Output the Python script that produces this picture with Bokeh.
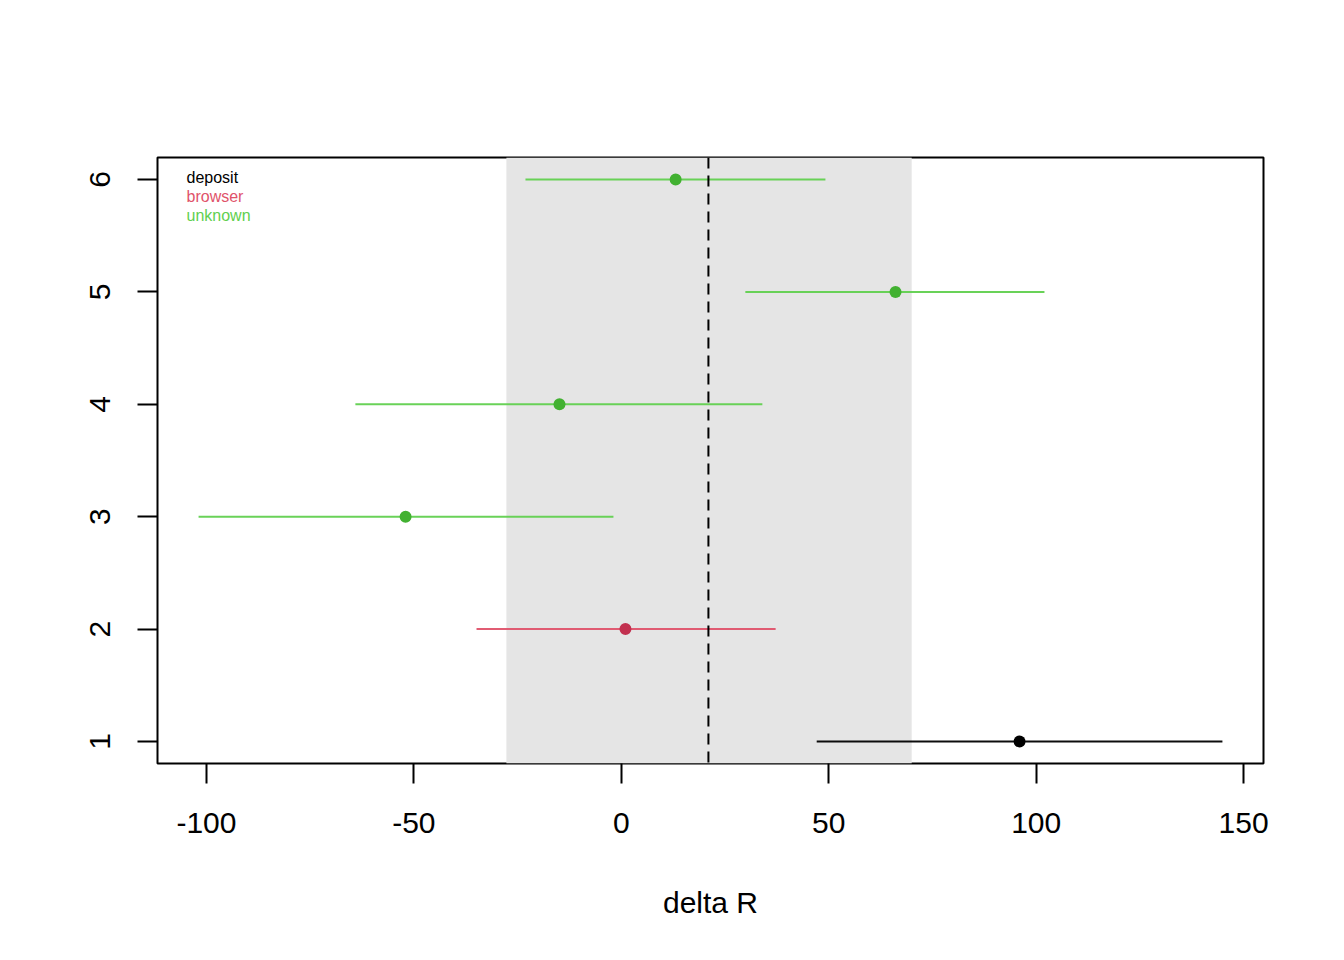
from bokeh.plotting import figure
from bokeh.models import Range1d, FixedTicker, BoxAnnotation, Span, Label, ColumnDataSource
from bokeh.embed import file_html
from bokeh.resources import INLINE

# ---- data ----
group = [1, 2, 3, 4, 5, 6]
estimate = [96.0, 1.0, -52.0, -14.9, 66.1, 13.1]
lower = [47.1, -34.9, -101.9, -64.1, 29.9, -23.1]
upper = [144.9, 37.2, -1.9, 34.0, 102.0, 49.2]
category = ["deposit", "browser", "unknown", "unknown", "unknown", "unknown"]

legend_labels = ["deposit", "browser", "unknown"]
band_low, band_high = -27.7, 70.0
ref_value = 21.0

x_ticks = [-100, -50, 0, 50, 100, 150]
x_tick_labels = ["-100", "-50", "0", "50", "100", "150"]
y_ticks = [1, 2, 3, 4, 5, 6]

# ---- styles ----
line_colors = {"deposit": "#000000", "browser": "#DF536B", "unknown": "#61D04F"}
point_colors = {"deposit": "#000000", "browser": "#C2304F", "unknown": "#42B131"}
FONT = "Liberation Sans"

x_start, x_end = -111.8, 154.8
y_start, y_end = 0.804, 6.196

W, H = 1328, 944
ML, MR, MT, MB = 157, 65, 157, 181

p = figure(width=W, height=H, output_backend="svg", toolbar_location=None,
           x_range=Range1d(x_start, x_end), y_range=Range1d(y_start, y_end),
           min_border_left=ML, min_border_right=MR, min_border_top=MT, min_border_bottom=MB)
p.xgrid.visible = False
p.ygrid.visible = False
p.background_fill_color = "white"
p.border_fill_color = "white"
p.outline_line_color = "black"
p.outline_line_width = 2

band = BoxAnnotation(left=band_low, right=band_high, fill_color="#E5E5E5", fill_alpha=1.0,
                     line_color=None, level="underlay")
p.add_layout(band)

src = ColumnDataSource(dict(
    y=group, est=estimate, lo=lower, hi=upper,
    lc=[line_colors[c] for c in category],
    pc=[point_colors[c] for c in category],
))
p.segment(x0="lo", x1="hi", y0="y", y1="y", source=src, line_color="lc", line_width=2, line_alpha=0.95)
p.add_layout(Span(location=ref_value, dimension="height", line_color="black",
                  line_dash="11 7", line_width=2))
p.scatter(x="est", y="y", source=src, size=12, fill_color="pc", line_color="pc", line_width=0)

# axes
for ax in (p.xaxis[0], p.yaxis[0]):
    ax.axis_line_color = None
    ax.major_tick_line_color = "black"
    ax.major_tick_line_width = 2
    ax.major_tick_out = 20
    ax.major_tick_in = 0
    ax.minor_tick_line_color = None
    ax.major_label_text_font = FONT
    ax.major_label_text_font_size = "30px"
    ax.major_label_text_color = "black"
p.xaxis.ticker = FixedTicker(ticks=x_ticks)
p.xaxis.major_label_overrides = {t: s for t, s in zip(x_ticks, x_tick_labels)}
p.yaxis.ticker = FixedTicker(ticks=y_ticks)
p.xaxis.major_label_standoff = 29
p.yaxis.major_label_standoff = 27
p.yaxis.major_label_orientation = "parallel"
p.xaxis.axis_label = "delta R"
p.xaxis.axis_label_text_font = FONT
p.xaxis.axis_label_text_font_size = "30px"
p.xaxis.axis_label_text_font_style = "normal"
p.xaxis.axis_label_text_color = "black"
p.xaxis.axis_label_standoff = 50

frame_w = W - ML - MR
frame_h = H - MT - MB
px_x = (x_end - x_start) / frame_w
px_y = (y_end - y_start) / frame_h

# legend text (placed relative to the plot frame)
for i, lab in enumerate(legend_labels):
    p.add_layout(Label(x=x_start + 29 * px_x, y=y_end - (20 + 19 * i) * px_y, text=lab,
                       text_font=FONT, text_font_size="16px", text_color=line_colors[lab],
                       text_baseline="middle", text_align="left"))

open("out.html", "w").write(file_html(p, INLINE))
